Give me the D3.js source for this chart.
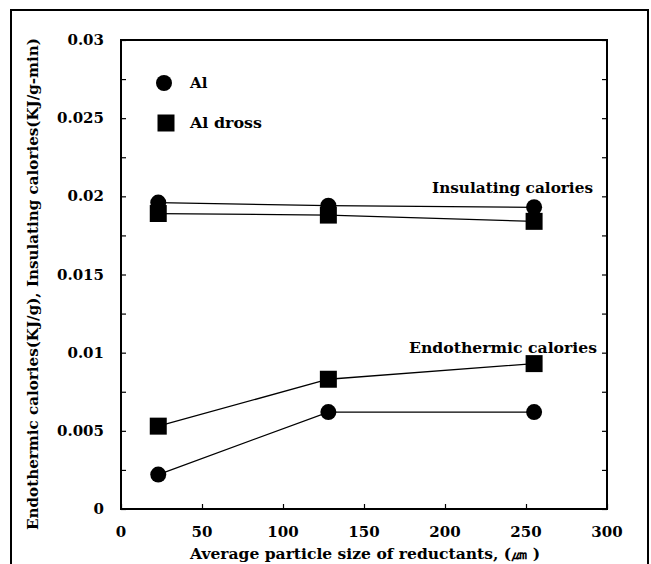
<!DOCTYPE html>
<html>
<head>
<meta charset="utf-8">
<script src="https://cdn.jsdelivr.net/npm/d3@7"></script>
<style>
  html, body { margin: 0; padding: 0; background: #fff; }
  svg text { font-family: "DejaVu Serif", "Liberation Serif", serif; font-weight: bold; fill: #000; }
</style>
</head>
<body>
<svg id="chart" width="651" height="564"></svg>
<script>
// ---- data ----
const particleSizes = [23, 128, 255];
const alInsulating = [0.0196, 0.0194, 0.0193];
const drossInsulating = [0.0189, 0.0188, 0.0184];
const alEndothermic = [0.0022, 0.0062, 0.0062];
const drossEndothermic = [0.0053, 0.0083, 0.0093];
const xTicks = [0, 50, 100, 150, 200, 250, 300];
const yTicks = [0, 0.005, 0.01, 0.015, 0.02, 0.025, 0.03];
const yTickLabels = ["0", "0.005", "0.01", "0.015", "0.02", "0.025", "0.03"];
const seriesNames = ["Al", "Al dross"];
const annotations = ["Insulating calories", "Endothermic calories"];
const xTitle = "Average particle size of reductants, (\u339B )";
const yTitle = "Endothermic calories(KJ/g), Insulating calories(KJ/g-min)";

// ---- layout ----
const svg = d3.select("#chart");
const L = 121, R = 607, T = 40, B = 509;
const x = d3.scaleLinear().domain([0, 300]).range([L, R]);
const y = d3.scaleLinear().domain([0, 0.03]).range([B, T]);

// outer frame
svg.append("rect").attr("x", 11).attr("y", 10).attr("width", 637).attr("height", 570)
  .attr("fill", "none").attr("stroke", "#000").attr("stroke-width", 2);

// plot frame
svg.append("rect").attr("x", L).attr("y", T).attr("width", R - L).attr("height", B - T)
  .attr("fill", "none").attr("stroke", "#000").attr("stroke-width", 2);

// axes ticks (inward)
const minorY = d3.range(0, 0.03001, 0.0025);
const gl = svg.append("g").attr("transform", `translate(${L},0)`)
  .call(d3.axisRight(y).tickValues(minorY).tickSize(5).tickFormat(""));
const gr = svg.append("g").attr("transform", `translate(${R},0)`)
  .call(d3.axisLeft(y).tickValues(minorY).tickSize(5).tickFormat(""));
const gb = svg.append("g").attr("transform", `translate(0,${B})`)
  .call(d3.axisTop(x).tickValues(xTicks).tickSize(5).tickFormat(""));
[gl, gr, gb].forEach(g => {
  g.select(".domain").remove();
  g.selectAll("line").attr("stroke", "#000").attr("stroke-width", 1.2);
});

// tick labels
svg.append("g").selectAll("text").data(yTicks).join("text")
  .attr("x", 104).attr("y", d => y(d) + 5)
  .attr("text-anchor", "end").attr("font-size", 15)
  .text((d, i) => yTickLabels[i]);
svg.append("g").selectAll("text").data(xTicks).join("text")
  .attr("x", d => x(d)).attr("y", 537)
  .attr("text-anchor", "middle").attr("font-size", 15)
  .text(d => d);

// axis titles
svg.append("text").attr("x", 365).attr("y", 559).attr("text-anchor", "middle")
  .attr("font-size", 14.5).attr("textLength", 350).attr("lengthAdjust", "spacingAndGlyphs").text(xTitle);
svg.append("text").attr("transform", "translate(38,284) rotate(-90)")
  .attr("text-anchor", "middle").attr("font-size", 14.5)
  .attr("textLength", 492).attr("lengthAdjust", "spacingAndGlyphs").text(yTitle);

// series
const line = d3.line().x((d, i) => x(particleSizes[i])).y(d => y(d));
const seriesList = [
  { v: alInsulating, shape: "circle" },
  { v: drossInsulating, shape: "square" },
  { v: alEndothermic, shape: "circle" },
  { v: drossEndothermic, shape: "square" }
];
seriesList.forEach(s => {
  svg.append("path").datum(s.v).attr("d", line)
    .attr("fill", "none").attr("stroke", "#000").attr("stroke-width", 1.3);
});
const circleSym = d3.symbol().type(d3.symbolCircle).size(Math.PI * 8 * 8);
const squareSym = d3.symbol().type(d3.symbolSquare).size(17 * 17);
seriesList.forEach(s => {
  svg.append("g").selectAll("path").data(s.v).join("path")
    .attr("transform", (d, i) => `translate(${x(particleSizes[i])},${y(d)})`)
    .attr("d", s.shape === "circle" ? circleSym : squareSym)
    .attr("fill", "#000");
});

// annotations
svg.append("text").attr("x", 432).attr("y", 193)
  .attr("font-size", 15).attr("textLength", 161).attr("lengthAdjust", "spacingAndGlyphs").text(annotations[0]);
svg.append("text").attr("x", 409).attr("y", 353)
  .attr("font-size", 15).attr("textLength", 188).attr("lengthAdjust", "spacingAndGlyphs").text(annotations[1]);

// legend
svg.append("path").attr("d", circleSym).attr("transform", "translate(164,83)").attr("fill", "#000");
svg.append("path").attr("d", squareSym).attr("transform", "translate(166,123)").attr("fill", "#000");
svg.append("text").attr("x", 190).attr("y", 88).attr("font-size", 15).text(seriesNames[0]);
svg.append("text").attr("x", 190).attr("y", 128).attr("font-size", 15)
  .attr("textLength", 72).attr("lengthAdjust", "spacingAndGlyphs").text(seriesNames[1]);
</script>
</body>
</html>
